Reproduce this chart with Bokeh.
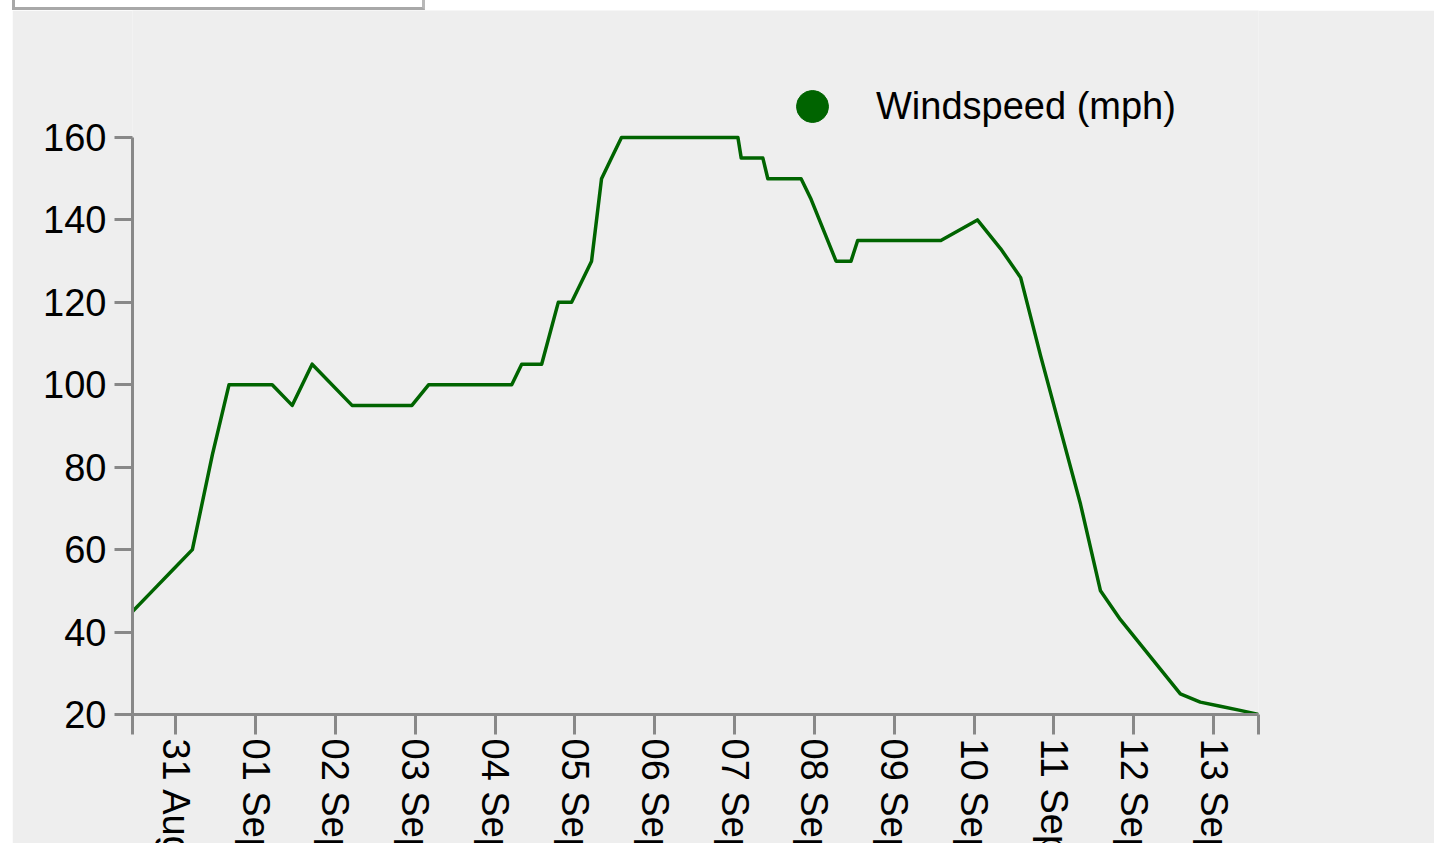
import math
import pandas as pd
from bokeh.plotting import figure
from bokeh.models import (Range1d, FixedTicker, DatetimeTickFormatter, Legend,
                          LegendItem, Spacer, ColumnDataSource)
from bokeh.layouts import column, row
from bokeh.embed import file_html
from bokeh.resources import INLINE

# ---- data ----
times = [
    "2017-08-30 11:00", "2017-08-30 17:00", "2017-08-30 23:00", "2017-08-31 05:00",
    "2017-08-31 11:00", "2017-08-31 16:00", "2017-09-01 05:00", "2017-09-01 11:00",
    "2017-09-01 17:00", "2017-09-02 05:00", "2017-09-02 23:00", "2017-09-03 04:00",
    "2017-09-04 05:00", "2017-09-04 08:00", "2017-09-04 14:00", "2017-09-04 19:00",
    "2017-09-04 23:00", "2017-09-05 05:00", "2017-09-05 08:00", "2017-09-05 11:00",
    "2017-09-05 14:00", "2017-09-07 01:00", "2017-09-07 02:00", "2017-09-07 08:30",
    "2017-09-07 10:00", "2017-09-07 20:00", "2017-09-07 23:00", "2017-09-08 06:30",
    "2017-09-08 11:00", "2017-09-08 13:00", "2017-09-09 14:00", "2017-09-10 01:00",
    "2017-09-10 08:00", "2017-09-10 14:00", "2017-09-10 20:00", "2017-09-11 02:00",
    "2017-09-11 08:00", "2017-09-11 14:00", "2017-09-11 20:00", "2017-09-12 02:00",
    "2017-09-12 08:00", "2017-09-12 14:00", "2017-09-12 20:00", "2017-09-13 02:00",
    "2017-09-13 08:00", "2017-09-13 13:30",
]
windspeed = [
    45, 50, 55, 60,
    83, 100, 100, 95,
    105, 95, 95, 100,
    100, 105, 105, 120,
    120, 130, 150, 155,
    160, 160, 155, 155,
    150, 150, 145, 130,
    130, 135, 135, 140,
    133, 126, 107, 89,
    71, 50, 43, 37,
    31, 25, 23, 22,
    21, 20,
]
tick_dates = ["2017-08-31", "2017-09-01", "2017-09-02", "2017-09-03", "2017-09-04",
              "2017-09-05", "2017-09-06", "2017-09-07", "2017-09-08", "2017-09-09",
              "2017-09-10", "2017-09-11", "2017-09-12", "2017-09-13"]
y_ticks = [20, 40, 60, 80, 100, 120, 140, 160]
series_label = "Windspeed (mph)"

# ---- styles ----
BG = "#eeeeee"
AXIS = "#888888"
GREEN = "#006400"
FONT = "Liberation Sans"
FSIZE = "38px"

dt = pd.to_datetime(times)
src = ColumnDataSource(data=dict(t=dt, v=windspeed))

t0, t1 = dt[0], dt[-1]

# plot area: 20..160 spans 577px; the frame reaches up to the top of the
# chart (704px) so the legend above the axis can live inside it
AXIS_PX = 577
FRAME_H = 704
y_top = y_ticks[0] + (y_ticks[-1] - y_ticks[0]) * FRAME_H / AXIS_PX

p = figure(x_axis_type="datetime", output_backend="svg", toolbar_location=None,
           frame_width=1126, frame_height=FRAME_H,
           min_border_left=120, min_border_right=176, min_border_top=0,
           min_border_bottom=10,
           x_range=Range1d(t0, t1), y_range=Range1d(y_ticks[0], y_top),
           background_fill_color=BG, border_fill_color=BG,
           outline_line_color=None)
p.grid.visible = False

p.line(x="t", y="v", source=src, line_color=GREEN, line_width=3.5,
       line_join="round")

# axes
to_ms = lambda s: float(pd.Timestamp(s).value // 10**6)
start_ms, end_ms = to_ms(t0), to_ms(t1)
ticks_ms = [start_ms] + [to_ms(d) for d in tick_dates] + [end_ms]

xa = p.xaxis[0]
xa.ticker = FixedTicker(ticks=ticks_ms, minor_ticks=[])
xa.formatter = DatetimeTickFormatter(days="%d %b", months="%d %b", hours="%d %b",
                                     years="%d %b", hourmin="%d %b", minutes="%d %b")
xa.major_label_overrides = {start_ms: "", end_ms: ""}
xa.major_label_orientation = -math.pi / 2
xa.major_tick_out = 20
xa.major_tick_in = 0
xa.minor_tick_out = 0
xa.minor_tick_in = 0
xa.major_label_standoff = 4

ya = p.yaxis[0]
ya.ticker = FixedTicker(ticks=y_ticks, minor_ticks=[])
ya.bounds = (y_ticks[0], y_ticks[-1])
ya.major_tick_out = 18
ya.major_tick_in = 0
ya.minor_tick_out = 0
ya.minor_tick_in = 0
ya.major_label_standoff = 8

for ax in (xa, ya):
    ax.axis_line_color = AXIS
    ax.axis_line_width = 3
    ax.major_tick_line_color = AXIS
    ax.major_tick_line_width = 3
    ax.major_label_text_font = FONT
    ax.major_label_text_font_size = FSIZE
    ax.major_label_text_color = "#000000"

# legend (circle marker), above the 160 line inside the plot area;
# the marker renderer itself is hidden, only its legend swatch is shown
marker = p.scatter(x="t", y="v", source=src, size=32, fill_color=GREEN,
                   line_color=GREEN, visible=False)
legend = Legend(items=[LegendItem(label=series_label, renderers=[marker])],
                location=(640, 568), glyph_width=80, glyph_height=80,
                label_standoff=24, padding=0, margin=0, spacing=0,
                border_line_color=None, background_fill_alpha=0,
                inactive_fill_alpha=0,
                label_text_font=FONT, label_text_font_size=FSIZE,
                label_text_color="#000000")
p.add_layout(legend)

box_style = {"background-color": "#ffffff",
             "border-left": "3px solid #a8a8a8",
             "border-right": "3px solid #b8b8b8",
             "border-bottom": "3px solid #a8a8a8",
             "box-sizing": "border-box"}
top = row(Spacer(width=12, height=10),
          Spacer(width=413, height=10, styles=box_style))
root = column(top, row(Spacer(width=12, height=10), p),
              styles={"max-height": "843px", "max-width": "1434px",
                      "overflow": "hidden"})

open("out.html", "w").write(file_html(root, INLINE))
